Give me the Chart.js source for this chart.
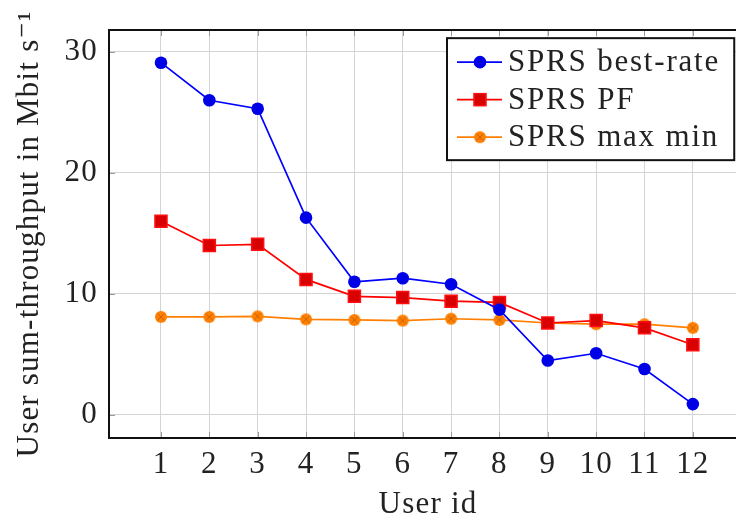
<!DOCTYPE html>
<html>
<head>
<meta charset="utf-8">
<script src="https://cdn.jsdelivr.net/npm/chart.js@4.4.1/dist/chart.umd.min.js"></script>
<style>
  html, body { margin: 0; padding: 0; background: #fff; }
</style>
</head>
<body>
<canvas id="chart" width="736" height="523"></canvas>
<script>
const userIds = [1, 2, 3, 4, 5, 6, 7, 8, 9, 10, 11, 12];
const bestRate = [29.1, 26.0, 25.3, 16.3, 11.0, 11.3, 10.8, 8.7, 4.5, 5.1, 3.8, 0.9];
const propFair = [16.0, 14.0, 14.1, 11.2, 9.8, 9.7, 9.4, 9.3, 7.6, 7.8, 7.2, 5.8];
const maxMin = [8.1, 8.1, 8.15, 7.9, 7.85, 7.8, 7.95, 7.85, 7.6, 7.5, 7.5, 7.2];
const yTicks = [0, 10, 20, 30];

const FONT = "'Liberation Serif', 'DejaVu Serif', serif";
Chart.defaults.font.family = FONT;
Chart.defaults.font.size = 31;
Chart.defaults.color = '#222';

// the axis box is wider than the canvas, its right edge is cut off
const AXIS_RIGHT = 747;

// orange circle with a cross, like pgfplots otimes*
function otimesMarker(r, fill, stroke) {
    const c = document.createElement('canvas');
    const s = Math.ceil(r * 2 + 2);
    c.width = c.height = s;
    const g = c.getContext('2d');
    const m = s / 2;
    g.fillStyle = fill;
    g.beginPath();
    g.arc(m, m, r, 0, Math.PI * 2);
    g.fill();
    g.strokeStyle = stroke;
    g.lineWidth = 1;
    const d = r * 0.55;
    g.beginPath();
    g.moveTo(m - d, m - d); g.lineTo(m + d, m + d);
    g.moveTo(m + d, m - d); g.lineTo(m - d, m + d);
    g.stroke();
    return c;
}
const orangeDot = otimesMarker(6, '#ff8000', '#c86400');

const toPoints = (ys) => ys.map((y, i) => ({ x: userIds[i], y: y }));

// stretch the plot area past the right edge of the canvas
const widenArea = {
    id: 'widenArea',
    afterLayout(chart) {
        const a = chart.chartArea, x = chart.scales.x;
        a.right = AXIS_RIGHT;
        a.width = a.right - a.left;
        x.right = AXIS_RIGHT;
        x.width = x.right - x.left;
        x.configure();
    }
};

// slightly wider text, closer to the TeX font (set after the canvas is sized)
const spacing = {
    id: 'spacing',
    beforeDraw(chart) { chart.ctx.letterSpacing = '1.2px'; }
};

// black frame plus short tick marks
const framePlugin = {
    id: 'frame',
    afterDatasetsDraw(chart) {
        const { ctx, chartArea: a, scales } = chart;
        ctx.save();
        ctx.strokeStyle = '#999';
        ctx.lineWidth = 1;
        ctx.beginPath();
        scales.x.ticks.forEach(t => {
            const x = Math.round(scales.x.getPixelForValue(t.value)) + 0.5;
            ctx.moveTo(x, a.bottom); ctx.lineTo(x, a.bottom - 6);
            ctx.moveTo(x, a.top); ctx.lineTo(x, a.top + 6);
        });
        scales.y.ticks.forEach(t => {
            const y = Math.round(scales.y.getPixelForValue(t.value)) + 0.5;
            ctx.moveTo(a.left, y); ctx.lineTo(a.left + 6, y);
        });
        ctx.stroke();
        ctx.strokeStyle = '#111';
        ctx.lineWidth = 2;
        ctx.strokeRect(a.left, a.top, a.right - a.left, a.bottom - a.top);
        ctx.restore();
    }
};

// boxed legend, anchored 2% inside the top right corner of the axis
const boxLegend = {
    id: 'boxLegend',
    afterDraw(chart) {
        const { ctx, chartArea: a } = chart;
        const right = a.right - 0.02 * (a.right - a.left);
        const top = a.top + 0.02 * (a.bottom - a.top);
        const left = 447, bottom = top + 122;
        ctx.save();
        ctx.fillStyle = '#fff';
        ctx.fillRect(left, top, right - left, bottom - top);
        ctx.strokeStyle = '#111';
        ctx.lineWidth = 2;
        ctx.strokeRect(left, top, right - left, bottom - top);
        ctx.font = '31px ' + FONT;
        ctx.letterSpacing = '1.8px';
        ctx.textBaseline = 'middle';
        chart.data.datasets.forEach((ds, i) => {
            const y = top + 24 + i * 37.5;
            ctx.strokeStyle = ds.borderColor;
            ctx.lineWidth = ds.borderWidth;
            ctx.beginPath();
            ctx.moveTo(left + 10, y);
            ctx.lineTo(left + 55, y);
            ctx.stroke();
            const mx = left + 33;
            if (ds.pointStyle === 'rect') {
                const h = ds.pointRadius * Math.SQRT1_2;
                ctx.fillStyle = ds.pointBackgroundColor;
                ctx.fillRect(mx - h, y - h, 2 * h, 2 * h);
                ctx.strokeStyle = ds.pointBorderColor;
                ctx.lineWidth = ds.pointBorderWidth;
                ctx.strokeRect(mx - h, y - h, 2 * h, 2 * h);
            } else if (ds.pointStyle === 'circle') {
                ctx.fillStyle = ds.pointBackgroundColor;
                ctx.beginPath();
                ctx.arc(mx, y, ds.pointRadius, 0, Math.PI * 2);
                ctx.fill();
            } else {
                ctx.drawImage(ds.pointStyle, mx - ds.pointStyle.width / 2, y - ds.pointStyle.height / 2);
            }
            ctx.fillStyle = '#222';
            ctx.fillText(ds.label, left + 61, y + 1);
        });
        ctx.restore();
    }
};

new Chart(document.getElementById('chart'), {
    type: 'line',
    data: {
        datasets: [{
            label: 'SPRS best-rate',
            data: toPoints(bestRate),
            borderColor: '#0000ff',
            borderWidth: 1.7,
            pointStyle: 'circle',
            pointRadius: 6.3,
            pointBackgroundColor: '#0000e6',
            pointBorderColor: '#0000e6',
            pointBorderWidth: 0
        }, {
            label: 'SPRS PF',
            data: toPoints(propFair),
            borderColor: '#ff0000',
            borderWidth: 1.7,
            pointStyle: 'rect',
            pointRadius: 8.5,
            pointBackgroundColor: '#d80000',
            pointBorderColor: '#ff1010',
            pointBorderWidth: 1.5
        }, {
            label: 'SPRS max min',
            data: toPoints(maxMin),
            borderColor: '#ff8000',
            borderWidth: 1.7,
            pointStyle: orangeDot,
            pointRadius: 6
        }]
    },
    options: {
        responsive: false,
        animation: false,
        layout: { padding: { top: 30, right: 0, left: 0, bottom: 0 } },
        plugins: { legend: { display: false }, tooltip: { enabled: false } },
        scales: {
            x: {
                type: 'linear',
                min: -0.075,
                max: 13.12,
                afterBuildTicks: (s) => { s.ticks = userIds.map(v => ({ value: v })); },
                afterFit: (s) => { s.height = 85; s.paddingLeft = 0; s.paddingRight = 0; },
                grid: { color: '#d4d4d4', lineWidth: 1, drawTicks: false },
                border: { display: false },
                ticks: { padding: 8, color: '#222' },
                title: { display: true, text: 'User id', color: '#222', padding: { top: 0, bottom: 0 } }
            },
            y: {
                min: -1.9,
                max: 31.8,
                afterBuildTicks: (s) => { s.ticks = yTicks.map(v => ({ value: v })); },
                afterFit: (s) => { s.width = 109; },
                grid: { color: '#d4d4d4', lineWidth: 1, drawTicks: false },
                border: { display: false },
                ticks: { padding: 11, color: '#222' },
                title: { display: true, text: 'User sum-throughput in Mbit s\u207B\u00B9', color: '#222', padding: { top: 11, bottom: 0 } }
            }
        }
    },
    plugins: [widenArea, spacing, framePlugin, boxLegend]
});
</script>
</body>
</html>
